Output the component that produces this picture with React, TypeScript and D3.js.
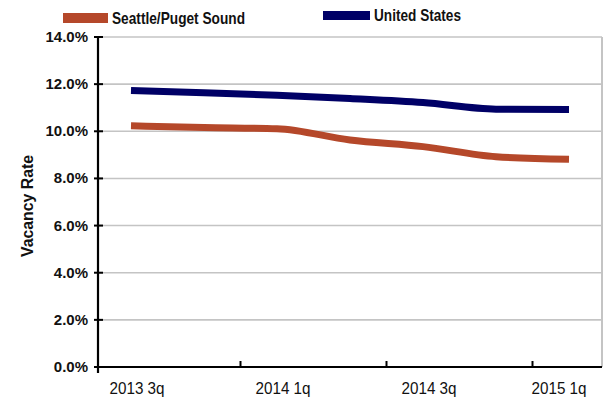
import React from "react";
import * as d3 from "d3";

const quarters = ["2013 3q", "2013 4q", "2014 1q", "2014 2q", "2014 3q", "2014 4q", "2015 1q"];
const seattle = [10.23, 10.16, 10.11, 9.63, 9.35, 8.92, 8.81];
const unitedStates = [11.73, 11.64, 11.53, 11.39, 11.22, 10.94, 10.92];
const yTicks = [0, 2, 4, 6, 8, 10, 12, 14];
const xLabels = ["2013 3q", "2014 1q", "2014 3q", "2015 1q"];
const seriesNames = ["Seattle/Puget Sound", "United States"];
const seriesColors = ["#B5482A", "#000066"];

const W = 608;
const H = 397;
const left = 98;
const right = 602;
const top = 37;
const bottom = 367;

export default function App() {
  const x = d3.scalePoint<string>().domain(quarters).range([131, 569]);
  const y = d3.scaleLinear().domain([0, 14]).range([bottom, top]);
  const step = x.step();
  const line = d3
    .line<number>()
    .x((_, i) => x(quarters[i]) as number)
    .y((d) => y(d))
    .curve(d3.curveMonotoneX);
  const tickIdx = [1, 3, 5];
  const font = "'Liberation Sans', Arial, sans-serif";
  return (
    <svg width={W} height={H} style={{ position: "absolute", left: 0, top: 0, background: "#fff" }}>
      {/* gridlines */}
      {yTicks.filter((t) => t > 0).map((t) => (
        <line key={t} x1={left} x2={right} y1={y(t)} y2={y(t)} stroke="#c4c4c4" strokeWidth={1.6} />
      ))}
      <line x1={right} x2={right} y1={top} y2={bottom} stroke="#c4c4c4" strokeWidth={2} />
      {/* lines */}
      {[seattle, unitedStates].map((s, k) => (
        <path key={k} d={line(s) || ""} fill="none" stroke={seriesColors[k]} strokeWidth={7} />
      ))}
      {/* y axis */}
      <line x1={left} x2={left} y1={top} y2={bottom + 6} stroke="#000" strokeWidth={2.2} />
      {yTicks.map((t) => (
        <g key={t}>
          <line x1={left - 4} x2={left + 5} y1={y(t)} y2={y(t)} stroke="#000" strokeWidth={2} />
          <text x={88} y={y(t) + 5} textAnchor="end" fontFamily={font} fontWeight="bold" fontSize={15} fill="#111">
            {t.toFixed(1) + "%"}
          </text>
        </g>
      ))}
      {/* x axis */}
      <line x1={left} x2={right} y1={bottom} y2={bottom} stroke="#000" strokeWidth={2.2} />
      {tickIdx.map((i) => {
        const tx = (x(quarters[i]) as number) + step / 2;
        return <line key={i} x1={tx} x2={tx} y1={bottom - 6} y2={bottom} stroke="#000" strokeWidth={2} />;
      })}
      {xLabels.map((lab) => {
        const cx = Math.min((x(lab) as number) + 6, 559);
        return (
          <text key={lab} x={cx} y={394} textAnchor="middle" fontFamily={font} fontSize={16} fill="#111"
            textLength={55} lengthAdjust="spacingAndGlyphs">
            {lab}
          </text>
        );
      })}
      {/* y title */}
      <text transform={`translate(33,206) rotate(-90)`} textAnchor="middle" fontFamily={font} fontWeight="bold" fontSize={16.5} fill="#111"
        textLength={102} lengthAdjust="spacingAndGlyphs">
        Vacancy Rate
      </text>
      {/* legend */}
      <rect x={63} y={13} width={45} height={10} fill={seriesColors[0]} />
      <text x={112} y={23.5} fontFamily={font} fontWeight="bold" fontSize={16.5} fill="#111"
        textLength={133} lengthAdjust="spacingAndGlyphs">{seriesNames[0]}</text>
      <rect x={323} y={11} width={47} height={9} fill={seriesColors[1]} />
      <text x={374} y={21} fontFamily={font} fontWeight="bold" fontSize={16.5} fill="#111"
        textLength={87} lengthAdjust="spacingAndGlyphs">{seriesNames[1]}</text>
    </svg>
  );
}
